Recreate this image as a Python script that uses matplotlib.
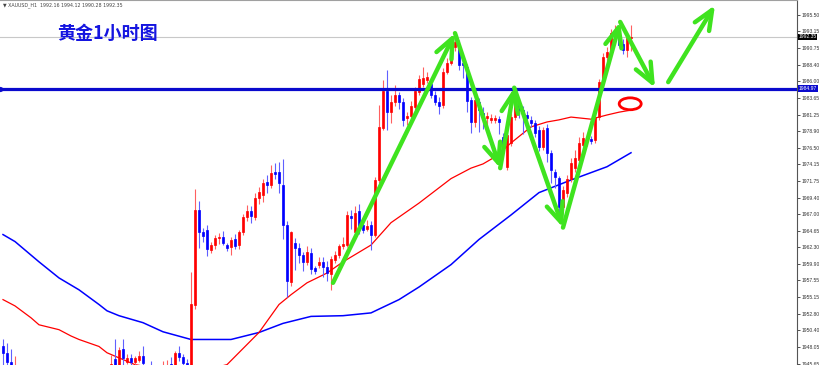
import numpy as np
import matplotlib.pyplot as plt
from matplotlib.patches import Ellipse

plt.rcParams['font.family'] = ['Noto Sans CJK SC', 'DejaVu Sans']

nan = np.nan

# XAUUSD H1 candles (index 4..26 lie below the visible range)
opens = [1948.1, 1947.2, 1945.9, 1944.8] + [nan] * 23 + [
    1944.9, 1946.3, 1945.3, 1947.7, 1945.9, 1946.5, 1945.9, 1946.2, 1946.8, 1945.2,
    1945.2, 1944.7, 1944.3, 1944.8, 1945.3, 1945.6, 1944.9, 1947.1, 1946.6, 1945.8,
    1944.9, 1954.1, 1967.6, 1964.4, 1964.8, 1961.9, 1962.6, 1963.6, 1963.8, 1962.6,
    1962.3, 1963.5, 1962.6, 1964.4, 1966.6, 1967.4, 1966.6, 1969.3, 1969.8, 1971.6,
    1971.2, 1973.0, 1973.1, 1971.2, 1965.5, 1957.3, 1962.9, 1962.2, 1961.2, 1960.2,
    1961.5, 1959.3, 1959.8, 1960.2, 1959.5, 1958.4, 1960.5, 1961.2, 1962.4, 1962.6,
    1966.8, 1964.4, 1967.4, 1965.5, 1964.9, 1965.5, 1964.1, 1971.9, 1979.4, 1984.6,
    1981.6, 1983.1, 1984.0, 1983.1, 1980.8, 1981.0, 1982.4, 1984.5, 1985.6, 1986.2,
    1985.6, 1984.1, 1983.0, 1982.6, 1987.4, 1988.6, 1990.9, 1990.8, 1988.6, 1988.1,
    1983.3, 1980.2, 1983.1, 1981.5, 1980.7, 1980.5, 1980.5, 1980.6, 1978.1, 1973.8,
    1977.2, 1980.9, 1982.6, 1981.9, 1981.2, 1980.5, 1980.1, 1979.1, 1976.6, 1979.4,
    1975.8, 1973.1, 1972.2, 1968.1, 1970.1, 1972.0, 1973.6, 1974.8, 1976.9, 1977.5,
    1977.8, 1977.6, 1980.9, 1985.9, 1989.5, 1990.2, 1992.9, 1992.6, 1991.4, 1990.5,
    1992.16]
highs = [1949.1, 1948.6, 1947.8, 1946.7] + [nan] * 23 + [
    1946.9, 1949.1, 1948.0, 1949.1, 1947.0, 1947.0, 1946.8, 1947.4, 1948.2, 1945.4,
    1946.0, 1945.2, 1945.3, 1946.0, 1946.2, 1946.6, 1947.5, 1948.2, 1947.0, 1946.3,
    1958.8, 1970.6, 1968.9, 1965.1, 1965.5, 1963.1, 1964.1, 1964.3, 1964.6, 1962.9,
    1963.8, 1964.2, 1964.8, 1967.0, 1968.3, 1968.2, 1970.0, 1970.9, 1972.0, 1972.6,
    1974.1, 1974.3, 1974.5, 1974.9, 1966.0, 1964.6, 1963.6, 1962.9, 1961.6, 1962.4,
    1962.2, 1959.6, 1960.9, 1960.9, 1960.3, 1961.0, 1961.8, 1962.8, 1963.8, 1967.4,
    1967.6, 1968.2, 1968.4, 1966.3, 1966.2, 1966.0, 1972.4, 1982.6, 1986.2, 1987.6,
    1984.0, 1985.5, 1984.5, 1983.6, 1981.6, 1983.2, 1985.2, 1986.9, 1988.0, 1987.3,
    1986.0, 1984.6, 1983.8, 1987.9, 1989.3, 1991.5, 1992.9, 1991.9, 1989.2, 1988.5,
    1983.8, 1984.2, 1983.6, 1982.4, 1981.6, 1981.4, 1981.2, 1981.0, 1978.6, 1979.5,
    1981.5, 1985.0, 1983.6, 1982.5, 1981.8, 1981.0, 1980.5, 1979.6, 1979.5, 1979.9,
    1976.2, 1973.5, 1972.5, 1971.0, 1972.6, 1975.0, 1976.2, 1978.0, 1978.7, 1978.4,
    1978.2, 1981.5, 1986.4, 1990.0, 1990.9, 1993.5, 1994.1, 1993.0, 1992.0, 1992.8,
    1994.12]
lows = [1944.8, 1944.9, 1944.6, 1944.3] + [nan] * 23 + [
    1944.5, 1944.7, 1944.9, 1945.3, 1945.6, 1945.5, 1945.5, 1945.9, 1945.2, 1944.3,
    1944.2, 1943.9, 1944.0, 1944.4, 1944.9, 1944.5, 1944.6, 1946.0, 1945.2, 1944.5,
    1944.5, 1953.4, 1962.2, 1963.1, 1961.0, 1961.5, 1962.1, 1962.7, 1962.6, 1961.7,
    1961.2, 1962.0, 1962.0, 1964.0, 1966.0, 1965.8, 1966.2, 1968.5, 1968.8, 1970.0,
    1970.8, 1972.0, 1970.1, 1963.4, 1955.2, 1956.8, 1959.1, 1960.1, 1958.9, 1959.8,
    1958.4, 1958.4, 1959.3, 1958.0, 1957.4, 1956.2, 1960.0, 1960.7, 1962.0, 1962.3,
    1964.9, 1963.8, 1964.2, 1964.3, 1964.6, 1961.9, 1963.8, 1971.5, 1979.1, 1979.0,
    1980.0, 1982.5, 1982.0, 1979.6, 1979.8, 1980.3, 1981.9, 1984.0, 1985.2, 1985.8,
    1983.6, 1982.6, 1981.3, 1982.2, 1987.0, 1988.3, 1990.3, 1987.6, 1986.5, 1981.6,
    1978.6, 1979.5, 1978.7, 1979.2, 1979.0, 1980.1, 1980.0, 1978.5, 1975.5, 1973.3,
    1976.8, 1980.5, 1980.8, 1978.5, 1979.8, 1979.5, 1978.0, 1976.0, 1976.2, 1974.5,
    1971.5, 1970.8, 1966.5, 1967.6, 1969.5, 1971.6, 1973.0, 1974.3, 1976.4, 1976.8,
    1977.0, 1977.2, 1980.5, 1985.5, 1988.9, 1989.8, 1992.4, 1990.9, 1989.9, 1989.5,
    1990.28]
closes = [1947.2, 1945.9, 1945.3, 1945.4] + [nan] * 23 + [
    1945.6, 1945.2, 1947.6, 1946.5, 1946.5, 1945.9, 1946.4, 1946.7, 1945.8, 1944.8,
    1944.7, 1944.3, 1944.8, 1945.3, 1945.4, 1944.9, 1947.1, 1946.6, 1945.8, 1944.9,
    1954.2, 1967.6, 1964.4, 1963.9, 1962.1, 1962.6, 1963.6, 1963.8, 1962.9, 1962.2,
    1963.3, 1962.4, 1964.4, 1966.6, 1967.4, 1966.7, 1969.4, 1970.2, 1971.5, 1971.2,
    1972.9, 1972.7, 1971.5, 1965.5, 1957.4, 1964.4, 1962.2, 1961.2, 1960.2, 1961.6,
    1959.2, 1958.9, 1960.2, 1959.5, 1958.6, 1960.6, 1961.2, 1962.4, 1962.8, 1966.9,
    1966.4, 1967.2, 1965.3, 1964.8, 1965.3, 1964.1, 1971.9, 1979.5, 1984.6, 1981.6,
    1983.1, 1984.0, 1983.1, 1980.5, 1981.0, 1982.5, 1984.6, 1986.4, 1986.5, 1986.6,
    1984.1, 1983.0, 1982.5, 1987.4, 1988.6, 1990.9, 1991.6, 1988.4, 1988.4, 1983.2,
    1980.2, 1983.3, 1981.9, 1981.1, 1981.0, 1980.8, 1980.7, 1980.2, 1976.2, 1978.4,
    1980.9, 1983.8, 1981.9, 1981.5, 1980.8, 1980.1, 1978.6, 1976.6, 1979.1, 1975.8,
    1973.4, 1972.4, 1968.1, 1970.5, 1972.0, 1974.4, 1975.0, 1977.2, 1977.9, 1977.7,
    1977.5, 1980.9, 1985.9, 1989.5, 1990.2, 1992.9, 1993.3, 1991.2, 1990.5, 1992.2,
    1992.35]

# moving averages (read at sampled bars)
ma_fast_idx = [0, 3, 7, 9, 14, 17, 19, 24, 26, 33, 40, 49, 56, 64, 69, 72, 76, 81, 85,
               92, 97, 104, 112, 117, 120, 123, 127, 132, 136, 139, 142, 147, 151, 154, 157]
ma_fast_val = [1954.8, 1953.9, 1952.2, 1951.2, 1950.5, 1949.6, 1949.1, 1948.1, 1947.2,
               1945.5, 1944.8, 1944.5, 1945.5, 1950.1, 1954.1, 1955.5, 1957.2, 1958.6,
               1960.2, 1962.6, 1965.8, 1968.6, 1972.1, 1973.6, 1974.2, 1975.2, 1977.2,
               1979.5, 1980.2, 1980.5, 1980.9, 1980.6, 1981.2, 1981.6, 1981.9]
ma_slow_idx = [0, 3, 9, 14, 19, 24, 26, 29, 35, 40, 47, 57, 64, 70, 77, 85, 92, 99, 104,
               112, 119, 127, 134, 142, 151, 157]
ma_slow_val = [1964.1, 1963.1, 1960.2, 1957.9, 1956.2, 1954.1, 1953.2, 1952.5, 1951.5,
               1950.2, 1949.1, 1949.1, 1950.1, 1951.4, 1952.4, 1952.5, 1952.9, 1954.8,
               1956.6, 1959.8, 1963.4, 1966.9, 1970.1, 1971.9, 1973.8, 1975.8]

yticks = [1995.50, 1993.15, 1990.75, 1988.40, 1986.00, 1983.65, 1981.25, 1978.90,
          1976.50, 1974.15, 1971.75, 1969.40, 1967.00, 1964.65, 1962.30, 1959.90,
          1957.55, 1955.15, 1952.80, 1950.40, 1948.05, 1945.65]
level = 1984.97
last_price = 1992.35

# hand-drawn arrows (bar index, price)
zigzag = [(82.5, 1957.2), (113, 1992.9), (124.3, 1973.6), (127.8, 1985.1),
          (140, 1965.1), (154.3, 1994.5), (163, 1985.1)]
extra_arrow = [(166.3, 1985.9), (178, 1996.9)]
ring_center = (156.8, 1982.8)

fig = plt.figure(figsize=(8.2, 3.65), dpi=100)
ax = fig.add_axes([0, 0, 797 / 820, 1])
ax.set_xlim(-0.75, 198.5)
ax.set_ylim(1945.45, 1997.64)

ax.plot(ma_slow_idx, ma_slow_val, color='#0000ff', lw=1.1, zorder=2)
ax.plot(ma_fast_idx, ma_fast_val, color='#ff0000', lw=0.9, zorder=2)

o = np.array(opens); h = np.array(highs); l = np.array(lows); c = np.array(closes)
idx = np.arange(len(o))
ok = np.isfinite(o)
up = ok & (c >= o)
dn = ok & (c < o)
for m, col, wick in [(up, '#ff0000', '#ff6060'), (dn, '#0000ff', '#6060ff')]:
    ax.vlines(idx[m], l[m], h[m], color=wick, lw=0.8, zorder=3)
    ax.bar(idx[m], np.maximum(np.abs(c[m] - o[m]), 0.12), bottom=np.minimum(o[m], c[m]),
           width=0.62, color=col, ec=col, lw=0.5, zorder=4)

ax.axhline(last_price, color='#c8c8c8', lw=0.8, zorder=1)
ax.axhline(level, color='#0a0acd', lw=2.3, zorder=5)
ax.plot([-0.2], [level], marker='>', ms=3, color='#0a0acd', zorder=6)

green = '#3fe31f'
style = '->,head_length=1.4,head_width=0.6'
for (x0, y0), (x1, y1) in zip(zigzag[:-1], zigzag[1:]):
    ax.annotate('', xy=(x1, y1), xytext=(x0, y0), zorder=7,
                arrowprops=dict(arrowstyle=style, color=green, lw=3.2, shrinkA=0, shrinkB=0))
ax.annotate('', xy=extra_arrow[1], xytext=extra_arrow[0], zorder=7,
            arrowprops=dict(arrowstyle=style, color=green, lw=3.2, shrinkA=0, shrinkB=0))
ax.add_patch(Ellipse(ring_center, width=5.5, height=1.7, fill=False, ec='#ff0000', lw=2, zorder=7))

for s in ['left', 'bottom']:
    ax.spines[s].set_visible(False)
ax.spines['top'].set_color('#a0a0a0')
ax.spines['right'].set_color('#555555')
ax.set_xticks([])
ax.yaxis.tick_right()
ax.set_yticks(yticks)
ax.set_yticklabels([f'{v:.2f}' for v in yticks], fontfamily='Liberation Sans')
ax.tick_params(axis='y', labelsize=3.6, length=2, pad=1, colors='#333333', width=0.6)

ax.text(1.002, last_price, f'{last_price:.2f}', transform=ax.get_yaxis_transform(),
        fontsize=3.6, color='white', va='center', ha='left', fontfamily='Liberation Sans',
        bbox=dict(boxstyle='square,pad=0.15', fc='black', ec='none'), clip_on=False)
ax.text(1.002, level, f'{level:.2f}', transform=ax.get_yaxis_transform(),
        fontsize=3.6, color='white', va='center', ha='left', fontfamily='Liberation Sans',
        bbox=dict(boxstyle='square,pad=0.15', fc='#0a0acd', ec='none'), clip_on=False)

fig.text(107 / 820, 1 - 33 / 365, '黄金1小时图', fontsize=13, fontweight='bold',
         color='#1515e0', ha='center', va='center')
fig.text(3 / 820, 1 - 5 / 365, '▼ XAUUSD_H1  1992.16 1994.12 1990.28 1992.35',
         fontsize=3.4, color='#444444', ha='left', va='center', family='DejaVu Sans')

fig.savefig('out.png', dpi=100)
